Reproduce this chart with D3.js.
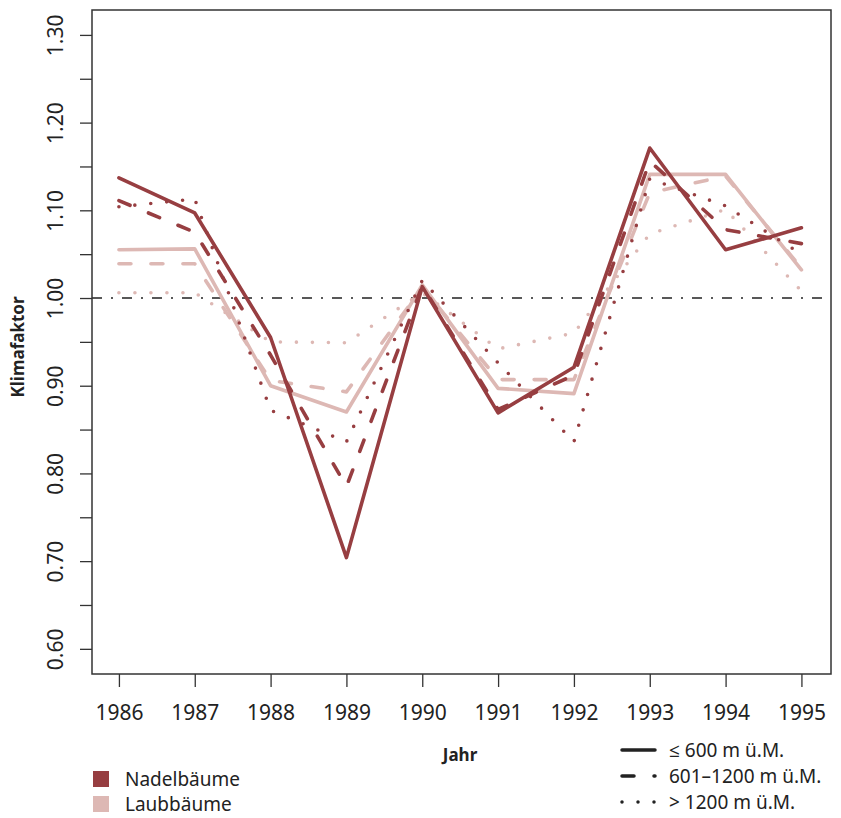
<!DOCTYPE html>
<html>
<head>
<meta charset="utf-8">
<script src="https://d3js.org/d3.v7.min.js"></script>
<style>
  body { margin: 0; background: #fff; }
  text { font-family: "Noto Sans", "Open Sans", sans-serif; fill: #222; }
</style>
</head>
<body>
<svg width="841" height="818"></svg>
<script>
// data
var years = [1986, 1987, 1988, 1989, 1990, 1991, 1992, 1993, 1994, 1995];
var nadelLow  = [1.137, 1.097, 0.955, 0.704, 1.013, 0.869, 0.921, 1.171, 1.055, 1.080];
var nadelMid  = [1.111, 1.075, 0.935, 0.785, 1.014, 0.873, 0.912, 1.156, 1.078, 1.062];
var nadelHigh = [1.104, 1.113, 0.872, 0.836, 1.020, 0.926, 0.836, 1.136, 1.105, 1.050];
var laubLow   = [1.055, 1.056, 0.900, 0.870, 1.015, 0.897, 0.891, 1.141, 1.141, 1.032];
var laubMid   = [1.039, 1.039, 0.906, 0.893, 1.012, 0.907, 0.907, 1.120, 1.139, 1.034];
var laubHigh  = [1.006, 1.006, 0.950, 0.949, 1.006, 0.942, 0.960, 1.073, 1.101, 1.008];
var yTicks = [0.60, 0.65, 0.70, 0.75, 0.80, 0.85, 0.90, 0.95, 1.00, 1.05, 1.10, 1.15, 1.20, 1.25, 1.30];
var groups = ["Nadelbäume", "Laubbäume"];
var levels = ["≤ 600 m ü.M.", "601–1200 m ü.M.", "> 1200 m ü.M."];

var colors = {"Nadelbäume": "#973e41", "Laubbäume": "#ddb8b4"};
var dashes = ["none", "12,20", "0,16"];

var series = [
  {group: "Laubbäume", level: 2, values: laubHigh},
  {group: "Laubbäume", level: 1, values: laubMid},
  {group: "Laubbäume", level: 0, values: laubLow},
  {group: "Nadelbäume", level: 2, values: nadelHigh},
  {group: "Nadelbäume", level: 1, values: nadelMid},
  {group: "Nadelbäume", level: 0, values: nadelLow}
];

var svg = d3.select("svg"),
    margin = {top: 10, right: 10, bottom: 144, left: 92},
    width = 841 - margin.left - margin.right,
    height = 818 - margin.top - margin.bottom;

var g = svg.append("g").attr("transform", "translate(" + margin.left + "," + margin.top + ")");

var x = d3.scaleLinear().domain([1985.645, 1995.39]).range([0, width]);
var y = d3.scaleLinear().domain([0.5713, 1.3284]).range([height, 0]);

// y axis, labels rotated like the original
var yAxis = g.append("g")
    .call(d3.axisLeft(y).tickValues(yTicks).tickSize(12)
      .tickFormat(function(d) { return Math.round(d * 100) % 10 === 0 ? d.toFixed(2) : ""; }));
yAxis.select(".domain").remove();
yAxis.selectAll("line").attr("stroke", "#333").attr("stroke-width", 1.3);
yAxis.selectAll("text")
    .attr("transform", "rotate(-90)")
    .attr("x", 0).attr("y", -29).attr("dy", 0)
    .attr("text-anchor", "middle")
    .style("font-size", "21px").style("font-family", "'Noto Sans'").attr("fill", "#222");

// x axis
var xAxis = g.append("g")
    .attr("transform", "translate(0," + height + ")")
    .call(d3.axisBottom(x).tickValues(years).tickSize(13).tickPadding(18).tickFormat(d3.format("d")));
xAxis.select(".domain").remove();
xAxis.selectAll("line").attr("stroke", "#333").attr("stroke-width", 1.3);
xAxis.selectAll("text").style("font-size", "21px").style("font-family", "'Noto Sans'").attr("fill", "#222");

// reference line at 1.00
g.append("line")
    .attr("x1", 0).attr("x2", width)
    .attr("y1", y(1)).attr("y2", y(1))
    .attr("stroke", "#222").attr("stroke-width", 1.6)
    .attr("stroke-dasharray", "10,9,2,9");

var line = d3.line()
    .x(function(d, i) { return x(years[i]); })
    .y(function(d) { return y(d); });

g.selectAll(".series")
  .data(series)
  .enter().append("path")
    .attr("class", "series")
    .attr("d", function(d) { return line(d.values); })
    .attr("fill", "none")
    .attr("stroke", function(d) { return colors[d.group]; })
    .attr("stroke-width", 3.6)
    .attr("stroke-linecap", "round")
    .attr("stroke-linejoin", "round")
    .attr("stroke-dasharray", function(d) { return dashes[d.level]; });

// frame
g.append("rect")
    .attr("width", width).attr("height", height)
    .attr("fill", "none").attr("stroke", "#333").attr("stroke-width", 1.5);

// axis titles
svg.append("text")
    .attr("x", 460).attr("y", 761)
    .attr("text-anchor", "middle")
    .style("font-size", "17px").style("font-weight", "bold")
    .text("Jahr");
svg.append("text")
    .attr("transform", "translate(24,347) rotate(-90)")
    .attr("text-anchor", "middle")
    .style("font-size", "17px").style("font-weight", "bold")
    .text("Klimafaktor");

// colour legend
var leg1 = svg.append("g").attr("transform", "translate(93,779)");
var row1 = leg1.selectAll("g").data(groups).enter().append("g")
    .attr("transform", function(d, i) { return "translate(0," + i * 25 + ")"; });
row1.append("rect")
    .attr("x", 0).attr("y", -8).attr("width", 16).attr("height", 16)
    .attr("fill", function(d) { return colors[d]; });
row1.append("text")
    .attr("x", 32).attr("dy", "0.35em")
    .style("font-size", "19px")
    .text(function(d) { return d; });

// line style legend
var leg2 = svg.append("g").attr("transform", "translate(620,750)");
var row2 = leg2.selectAll("g").data(levels).enter().append("g")
    .attr("transform", function(d, i) { return "translate(0," + i * 26 + ")"; });
row2.append("line")
    .attr("x1", 2).attr("x2", 35)
    .attr("stroke", "#222").attr("stroke-width", 3.5)
    .attr("stroke-linecap", "round")
    .attr("stroke-dasharray", function(d, i) { return dashes[i]; });
row2.append("text")
    .attr("x", 49).attr("dy", "0.35em")
    .style("font-size", "19px")
    .text(function(d) { return d; });
</script>
</body>
</html>
